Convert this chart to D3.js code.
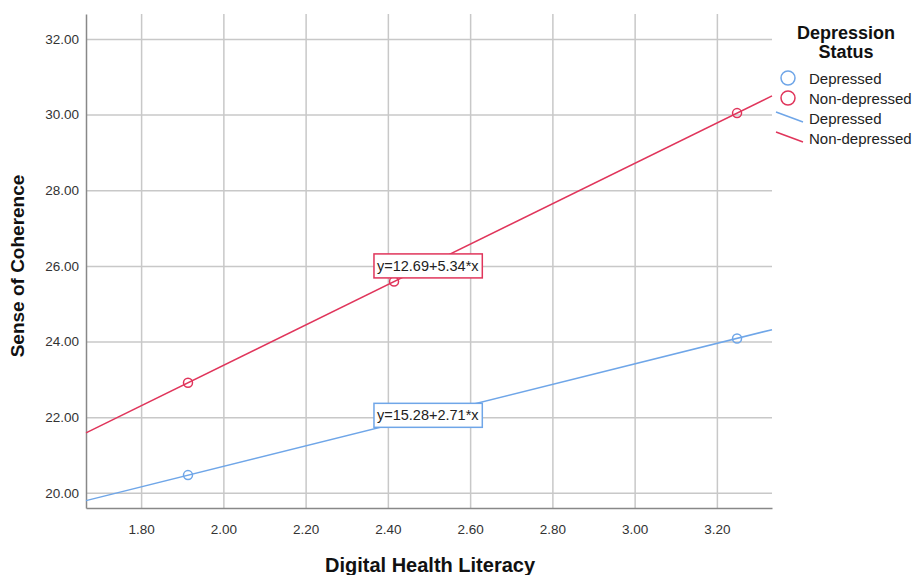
<!DOCTYPE html>
<html>
<head>
<meta charset="utf-8">
<script src="https://cdn.jsdelivr.net/npm/d3@7"></script>
<style>
  body { margin: 0; background: #fff; }
  svg text { font-family: "Liberation Sans", Arial, sans-serif; }
</style>
</head>
<body>
<script>
'use strict';

// groups and their colours
let groups = ["Depressed", "Non-depressed"];
let colors = ["#6fa6e8", "#e0355b"];

// observed group means (visible points)
let depressedX = [1.914, 3.249];
let depressedY = [20.47, 24.08];
let nonDepX = [1.914, 2.415, 3.249];
let nonDepY = [22.91, 25.59, 30.04];

// fit lines (intercept, slope) and their label spots
let intercepts = [15.28, 12.69];
let slopes = [2.71, 5.34];
let fitLabels = ["y=15.28+2.71*x", "y=12.69+5.34*x"];
let labelX = [2.497, 2.497];
let labelY = [22.05, 26.0];

// ticks
let xTicks = [1.8, 2.0, 2.2, 2.4, 2.6, 2.8, 3.0, 3.2];
let yTicks = [20, 22, 24, 26, 28, 30, 32];

let margin = { top: 14, left: 86, bottom: 67, right: 145 };
let W = 917, H = 575;
let width = W - margin.left - margin.right,
  height = H - margin.top - margin.bottom;

let svg = d3.select("body").append("svg")
  .attr("width", W)
  .attr("height", H);

let xScale = d3.scaleLinear()
  .domain([1.666, 3.334])
  .range([margin.left, margin.left + width]);
let yScale = d3.scaleLinear()
  .domain([19.6, 32.66])
  .range([margin.top + height, margin.top]);

// gridlines
svg.append("g")
  .attr("transform", "translate(0," + (margin.top + height) + ")")
  .call(d3.axisBottom(xScale).tickValues(xTicks).tickSize(-height).tickFormat(""))
  .call(g => g.select(".domain").remove())
  .call(g => g.selectAll("line").attr("stroke", "#c8c8c8").attr("stroke-width", 1.5));
svg.append("g")
  .attr("transform", "translate(" + margin.left + ",0)")
  .call(d3.axisLeft(yScale).tickValues(yTicks).tickSize(-width).tickFormat(""))
  .call(g => g.select(".domain").remove())
  .call(g => g.selectAll("line").attr("stroke", "#c8c8c8").attr("stroke-width", 1.5));

// axes
svg.append("g")
  .attr("transform", "translate(0," + (margin.top + height) + ")")
  .call(d3.axisBottom(xScale).tickValues(xTicks).tickSize(0).tickPadding(16).tickFormat(d3.format(".2f")))
  .call(g => g.select(".domain").attr("stroke", "#888").attr("stroke-width", 1.5))
  .call(g => g.selectAll("text").attr("font-size", "13.5px").attr("fill", "#333"));
svg.append("g")
  .attr("transform", "translate(" + margin.left + ",0)")
  .call(d3.axisLeft(yScale).tickValues(yTicks).tickSize(0).tickPadding(7).tickFormat(d3.format(".2f")))
  .call(g => g.select(".domain").attr("stroke", "#888").attr("stroke-width", 1.5))
  .call(g => g.selectAll("text").attr("font-size", "13.5px").attr("fill", "#333"));

// axis titles
svg.append("text")
  .attr("x", 430).attr("y", 572)
  .attr("text-anchor", "middle")
  .attr("font-size", "20px").attr("font-weight", "bold").attr("fill", "#111")
  .text("Digital Health Literacy");
svg.append("text")
  .attr("transform", "translate(24," + 266 + ") rotate(-90)")
  .attr("text-anchor", "middle")
  .attr("font-size", "19px").attr("font-weight", "bold").attr("fill", "#111")
  .text("Sense of Coherence");

// fit lines
let plot = svg.append("g");
let xd = xScale.domain();
groups.forEach((g, i) => {
  let pts = xd.map(x => [x, intercepts[i] + slopes[i] * x]);
  plot.append("line")
    .attr("x1", xScale(pts[0][0])).attr("y1", yScale(pts[0][1]))
    .attr("x2", xScale(pts[1][0])).attr("y2", yScale(pts[1][1]))
    .attr("stroke", colors[i]).attr("stroke-width", 1.5);
});

// points
let series = [[depressedX, depressedY], [nonDepX, nonDepY]];
series.forEach((s, i) => {
  plot.selectAll(".pt" + i)
    .data(s[0])
    .enter()
    .append("circle")
    .attr("cx", (d) => xScale(d))
    .attr("cy", (d, j) => yScale(s[1][j]))
    .attr("r", 4.5)
    .attr("fill", "none")
    .attr("stroke", colors[i])
    .attr("stroke-width", 1.5);
});

// fit labels
groups.forEach((g, i) => {
  let cx = xScale(labelX[i]), cy = yScale(labelY[i]);
  let t = plot.append("text")
    .attr("x", cx).attr("y", cy + 5)
    .attr("text-anchor", "middle")
    .attr("font-size", "14.5px").attr("fill", "#222")
    .text(fitLabels[i]);
  let bb = t.node().getBBox();
  plot.insert("rect", () => t.node())
    .attr("x", bb.x - 3).attr("y", cy - 12)
    .attr("width", bb.width + 6).attr("height", 24)
    .attr("fill", "#fff")
    .attr("stroke", colors[i]).attr("stroke-width", 1.5);
});

// legend
let legend = svg.append("g");
legend.append("text")
  .attr("x", 846).attr("y", 39)
  .attr("text-anchor", "middle")
  .attr("font-size", "18px").attr("font-weight", "bold").attr("fill", "#111")
  .text("Depression");
legend.append("text")
  .attr("x", 846).attr("y", 58)
  .attr("text-anchor", "middle")
  .attr("font-size", "18px").attr("font-weight", "bold").attr("fill", "#111")
  .text("Status");

groups.forEach((g, i) => {
  let y = 78 + i * 20;
  legend.append("circle")
    .attr("cx", 788).attr("cy", y).attr("r", 7)
    .attr("fill", "none").attr("stroke", colors[i]).attr("stroke-width", 1.5);
  legend.append("text")
    .attr("x", 809).attr("y", y + 5.5)
    .attr("font-size", "15px").attr("fill", "#222")
    .text(g);
});
groups.forEach((g, i) => {
  let y = 118 + i * 20;
  legend.append("line")
    .attr("x1", 776).attr("y1", y - 6)
    .attr("x2", 803).attr("y2", y + 4)
    .attr("stroke", colors[i]).attr("stroke-width", 1.5);
  legend.append("text")
    .attr("x", 809).attr("y", y + 5.5)
    .attr("font-size", "15px").attr("fill", "#222")
    .text(g);
});
</script>
</body>
</html>
